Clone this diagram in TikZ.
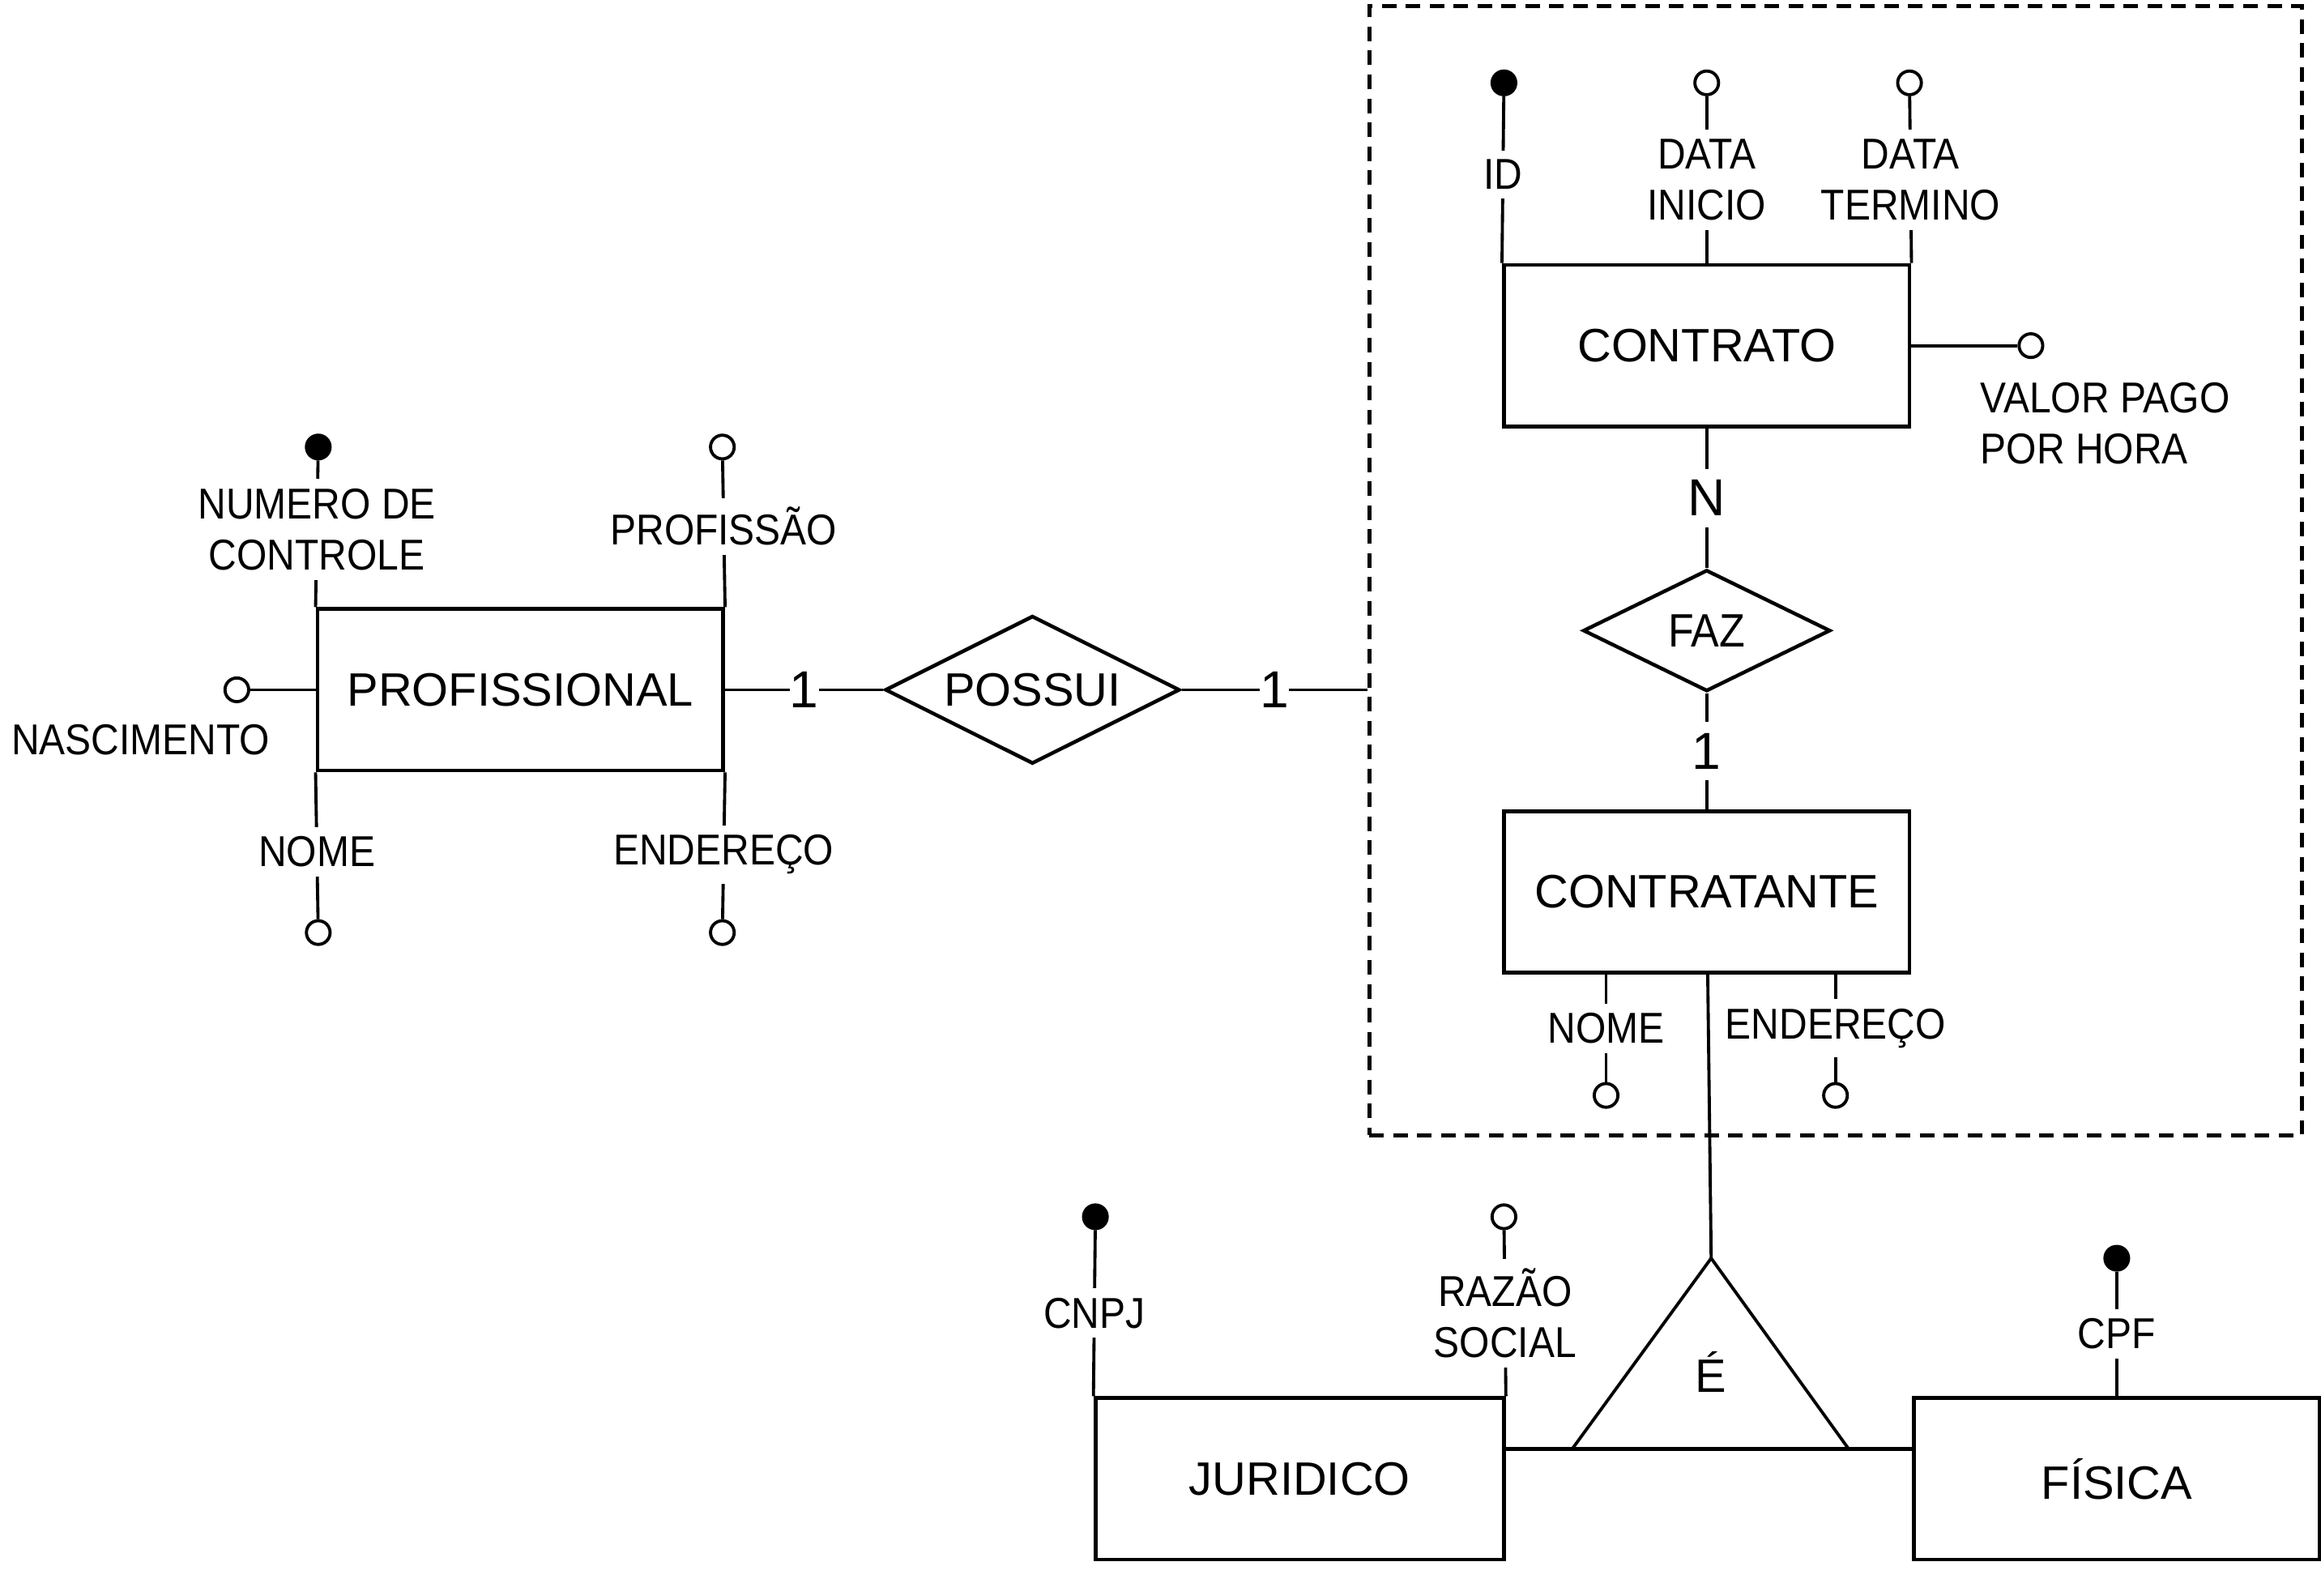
\documentclass[tikz,border=0pt]{standalone}
\usepackage{fontspec}
\setmainfont{Liberation Sans}
\newfontfamily\attrfont{Liberation Sans}[FakeStretch=0.9]
\usetikzlibrary{shapes.geometric}

\begin{document}
\begin{tikzpicture}[
  entidade/.style={draw, line width=0.75pt, minimum width=2.74cm,
    minimum height=1.09cm, inner sep=0pt, font=\fontsize{9}{11}\selectfont},
  relacao/.style={draw, diamond, aspect=2, line width=0.7pt, inner sep=0pt,
    font=\fontsize{9}{11}\selectfont},
  atrib/.style={circle, draw, line width=0.6pt, fill=white,
    inner sep=0pt, minimum size=0.16cm},
  chave/.style={atrib, fill=black},
  rotulo/.style={fill=white, inner sep=1.8pt, align=center,
    font=\attrfont\fontsize{8.3}{9.9}\selectfont},
  card/.style={fill=white, inner xsep=0pt, inner ysep=2.2pt,
    font=\fontsize{10}{12}\selectfont},
  liga/.style={line width=0.6pt}
]
\useasboundingbox (0,0) rectangle (15.68,-10.78);

%--------------------
% Entidades
%--------------------
\node[entidade] (profissional) at (3.515,-4.66) {PROFISSIONAL};
\node[entidade] (contrato) at (11.53,-2.335) {CONTRATO};
\node[entidade] (contratante) at (11.53,-6.025) {CONTRATANTE};
\node[entidade, minimum width=2.76cm] (juridico) at (8.78,-9.99) {JURIDICO};
\node[entidade] (fisica) at (14.30,-9.99) {FÍSICA};

%--------------------
% Relacionamentos
%--------------------
\node[relacao, minimum width=1.99cm, minimum height=1.0cm] (possui) at (6.975,-4.66) {POSSUI};
\node[relacao, minimum width=1.67cm, minimum height=0.82cm,
  font=\attrfont\fontsize{9}{11}\selectfont] (faz) at (11.53,-4.26) {FAZ};

% agregacao (caixa tracejada)
\node[draw, line width=0.8pt, dash pattern=on 2.8pt off 1.8pt,
  minimum width=6.30cm, minimum height=7.63cm] (agregacao) at (12.40,-3.855) {};

%--------------------
% Atributos
%--------------------
\node[chave] (numero) at (2.15,-3.02) {};
\node[atrib] (profissao) at (4.88,-3.02) {};
\node[atrib] (nome) at (2.15,-6.30) {};
\node[atrib] (endereco) at (4.88,-6.30) {};
\node[atrib] (nascimento) at (1.60,-4.66) {};

\node[chave] (id) at (10.16,-0.56) {};
\node[atrib] (dataInicio) at (11.53,-0.56) {};
\node[atrib] (dataTermino) at (12.90,-0.56) {};
\node[atrib] (valor) at (13.72,-2.335) {};

\node[atrib] (nomeC) at (10.85,-7.40) {};
\node[atrib] (enderecoC) at (12.40,-7.40) {};

\node[chave] (cnpj) at (7.40,-8.22) {};
\node[atrib] (razao) at (10.16,-8.22) {};
\node[chave] (cpf) at (14.30,-8.50) {};

% ligacoes dos atributos
\draw[liga] (profissional.north west) -- node[rotulo, pos=0.53]{NUMERO DE\\CONTROLE} (numero);
\draw[liga] (profissional.north east) -- node[rotulo, pos=0.55]{PROFISSÃO} (profissao);
\draw[liga] (profissional.south west) -- node[rotulo, pos=0.54]{NOME} (nome);
\draw[liga] (profissional.south east) -- node[rotulo, pos=0.56]{ENDEREÇO} (endereco);
\draw[liga] (profissional.west) -- (nascimento);
\node[rotulo] (nascTexto) at (0.95,-5.00) {NASCIMENTO};

\draw[liga] (contrato.north west) -- node[rotulo, pos=0.53]{ID} (id);
\draw[liga] (contrato.north) -- node[rotulo]{DATA\\INICIO} (dataInicio);
\draw[liga] (contrato.north east) -- node[rotulo]{DATA\\TERMINO} (dataTermino);
\draw[liga] (contrato.east) -- (valor);
\node[rotulo, align=left, anchor=west] (valorTexto) at (13.31,-2.86) {VALOR PAGO\\POR HORA};

\draw[liga] (nomeC |- contratante.south) -- node[rotulo]{NOME} (nomeC);
\draw[liga] (enderecoC |- contratante.south) -- node[rotulo]{ENDEREÇO} (enderecoC);

\draw[liga] (juridico.north west) -- node[rotulo]{CNPJ} (cnpj);
\draw[liga] (juridico.north east) -- node[rotulo]{RAZÃO\\SOCIAL} (razao);
\draw[liga] (fisica.north) -- node[rotulo]{CPF} (cpf);

%--------------------
% Cardinalidades
%--------------------
\draw[liga] (profissional) -- node[card]{1} (possui);
\draw[liga] (possui) -- node[card]{1} (possui -| agregacao.west);
\draw[liga] (contrato) -- node[card]{N} (faz);
\draw[liga] (faz) -- node[card]{1} (contratante);

%--------------------
% Especializacao
%--------------------
\coordinate (eTopo) at (11.56,-8.50);
\coordinate (eEsq) at (10.62,-9.79);
\coordinate (eDir) at (12.49,-9.79);
\draw[liga] (contratante) -- (eTopo);
\draw[liga] (eTopo) -- (eEsq) -- (eDir) -- cycle;
\node[font=\fontsize{9}{11}\selectfont] (eTexto) at (11.56,-9.27) {É};
\draw[line width=0.75pt] (juridico.east |- eEsq) -- (fisica.west |- eEsq);

\end{tikzpicture}
\end{document}
